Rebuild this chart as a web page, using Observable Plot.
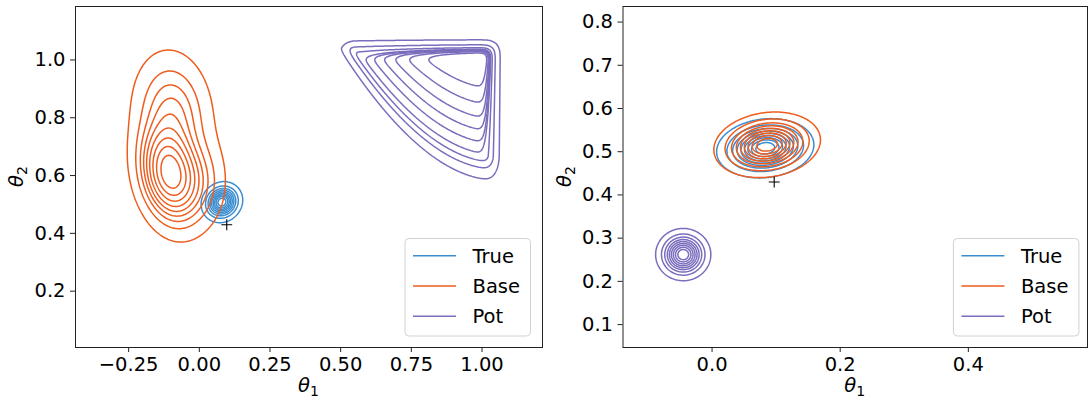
<!DOCTYPE html>
<html><head><meta charset="utf-8">
<script src="https://cdn.jsdelivr.net/npm/d3@7"></script>
<script src="https://cdn.jsdelivr.net/npm/@observablehq/plot@0.6"></script>
<style>
body{margin:0;background:#fff;}
#wrap{position:relative;width:1089px;height:403px;overflow:hidden;background:#fff;}
#wrap svg{position:absolute;top:0;}
</style>
</head><body><div id="wrap"></div>
<script>
// ---------- data ----------
const seriesNames = ["True", "Base", "Pot"];
const seriesColors = ["#3a8dd0", "#ee5d1e", "#7a6dbd"];
// Gaussian components: [weight, mean θ1, mean θ2, sd θ1, sd θ2, correlation]
const leftTrue  = [[1, 0.080, 0.508, 0.030, 0.029, 0.10]];
const leftBase  = [[0.60, -0.105, 0.605, 0.060, 0.095, -0.20], [0.30, -0.095, 0.820, 0.073, 0.110, -0.10], [0.10, 0.000, 0.580, 0.055, 0.090, 0.0]];
// corner-peaked posterior: [corner θ1, corner θ2, θ1 exponent, θ1 scale, plateau, falloff, slope, edge θ1, edge θ2, edge softness]
const leftPot   = [1.035, 1.04, 1.83, 0.711, 0.37, 0.055, 0.6, 1.05, 1.055, 0.0206];
const rightTrue = [[1, 0.083, 0.508, 0.031, 0.028, 0.12]];
const rightBase = [[1, 0.086, 0.516, 0.034, 0.031, 0.15]];
const rightPot  = [[1, -0.045, 0.262, 0.0176, 0.0247, 0.0]];
const truthPoint = [{t1: 0.097, t2: 0.430}];
const levelProportions = [0.05, 0.1556, 0.2611, 0.3667, 0.4722, 0.5778, 0.6833, 0.7889, 0.8944];

const leftXTicks = [-0.25, 0, 0.25, 0.5, 0.75, 1.0];
const leftXLabels = ["−0.25", "0.00", "0.25", "0.50", "0.75", "1.00"];
const leftYTicks = [0.2, 0.4, 0.6, 0.8, 1.0];
const leftYLabels = ["0.2", "0.4", "0.6", "0.8", "1.0"];
const rightXTicks = [0, 0.2, 0.4];
const rightXLabels = ["0.0", "0.2", "0.4"];
const rightYTicks = [0.1, 0.2, 0.3, 0.4, 0.5, 0.6, 0.7, 0.8];
const rightYLabels = ["0.1", "0.2", "0.3", "0.4", "0.5", "0.6", "0.7", "0.8"];

// ---------- density helpers ----------
function mixture(comps) {
  return (x, y) => {
    let s = 0;
    for (const [w, mx, my, sx, sy, r] of comps) {
      const dx = (x - mx) / sx, dy = (y - my) / sy;
      const q = (dx * dx - 2 * r * dx * dy + dy * dy) / (1 - r * r);
      s += w * Math.exp(-0.5 * q) / (sx * sy * Math.sqrt(1 - r * r));
    }
    return s;
  };
}
function erf(z) {
  const s = Math.sign(z); z = Math.abs(z);
  const t = 1 / (1 + 0.3275911 * z);
  const y = 1 - (((((1.061405429 * t - 1.453152027) * t) + 1.421413741) * t - 0.284496736) * t + 0.254829592) * t * Math.exp(-z * z);
  return s * y;
}
const Phi = z => 0.5 * (1 + erf(z / Math.SQRT2));
function cornerDensity([cx, cy, g, A, t0, s, k, ex, ey, w]) {
  return (x, y) => {
    const ux = Math.max(0, cx - x), uy = Math.max(0, cy - y);
    const t = Math.pow(ux, g) / A + uy;
    const d = Math.max(0, t - t0);
    return Math.exp(-k * t - d * d / (2 * s * s)) * Phi((ex - x) / w) * Phi((ey - y) / w);
  };
}
function isoLevels(f, xd, yd) {
  const n = 360, vals = [];
  let tot = 0;
  for (let i = 0; i < n; i++) for (let j = 0; j < n; j++) {
    const v = f(xd[0] + (i + 0.5) * (xd[1] - xd[0]) / n, yd[0] + (j + 0.5) * (yd[1] - yd[0]) / n);
    vals.push(v); tot += v;
  }
  vals.sort((a, b) => b - a);
  const order = levelProportions.map((p, i) => [(1 - p) * tot, i]).sort((a, b) => a[0] - b[0]);
  const res = new Array(order.length);
  let cum = 0, oi = 0;
  for (let i = 0; i < vals.length && oi < order.length; i++) {
    cum += vals[i];
    while (oi < order.length && cum >= order[oi][0]) { res[order[oi][1]] = vals[i]; oi++; }
  }
  return res.filter(v => v !== undefined).sort((a, b) => a - b);
}

function contourMark(f, xd, yd, color) {
  return Plot.contour({
    x1: xd[0], x2: xd[1], y1: yd[0], y2: yd[1],
    value: f, thresholds: isoLevels(f, xd, yd),
    fill: "none", stroke: color, strokeWidth: 1.5, pixelSize: 1
  });
}

const FONT = "'DejaVu Sans', sans-serif";
function panel({left, width, marginLeft, marginRight, xd, yd, dens, xt, xl, yt, yl, legendX}) {
  const xMap = new Map(xt.map((d, i) => [d, xl[i]]));
  const yMap = new Map(yt.map((d, i) => [d, yl[i]]));
  const svg = Plot.plot({
    width, height: 403, marginLeft, marginRight, marginTop: 6, marginBottom: 56,
    x: {domain: xd, label: null},
    y: {domain: yd, label: null},
    style: {fontFamily: "DejaVu Sans", fontSize: "19.5px", color: "black", background: "white", overflow: "visible"},
    marks: [
      ...dens.map((f, i) => contourMark(f, xd, yd, seriesColors[i])),
      Plot.dot(truthPoint, {x: "t1", y: "t2", symbol: "plus", r: 3.6, stroke: "black", strokeWidth: 1.1}),
      Plot.axisX(xt, {tickSize: 5, tickPadding: 5, fontSize: 19.5, tickFormat: d => xMap.get(d), label: null, stroke: "#222"}),
      Plot.axisY(yt, {tickSize: 5, tickPadding: 5, fontSize: 19.5, tickFormat: d => yMap.get(d), label: null, stroke: "#222"}),
      Plot.frame({stroke: "#222", strokeWidth: 1})
    ]
  });
  svg.style.left = left + "px";
  const s = d3.select(svg);
  const cx = marginLeft + (width - marginLeft - marginRight) / 2;
  const t1 = s.append("text").attr("x", cx).attr("y", 392).attr("text-anchor", "middle").attr("fill", "black");
  t1.append("tspan").attr("font-style", "italic").text("θ");
  t1.append("tspan").attr("class", "sub").attr("dy", "4").text("1");
  const t2 = s.append("text").attr("transform", `translate(${marginLeft - 52},176.5) rotate(-90)`)
    .attr("text-anchor", "middle").attr("fill", "black");
  t2.append("tspan").attr("font-style", "italic").text("θ");
  t2.append("tspan").attr("class", "sub").attr("dy", "4").text("2");
  const g = s.append("g").attr("transform", `translate(${legendX},238.5)`);
  g.append("rect").attr("width", 125.5).attr("height", 97.5).attr("rx", 4)
    .attr("fill", "white").attr("fill-opacity", 0.8).attr("stroke", "#d2d2d2").attr("stroke-width", 1);
  seriesNames.forEach((name, i) => {
    const yy = 17.2 + i * 30.3;
    g.append("line").attr("x1", 8).attr("x2", 51).attr("y1", yy).attr("y2", yy)
      .attr("stroke", seriesColors[i]).attr("stroke-width", 1.5);
    g.append("text").attr("x", 67.5).attr("y", yy + 7).attr("text-anchor", "start")
      .attr("fill", "black").text(name);
  });
  s.selectAll("text").style("font-family", FONT, "important").style("font-size", "19.5px", "important");
  s.selectAll("tspan.sub").style("font-size", "14px", "important");
  document.getElementById("wrap").appendChild(svg);
}

panel({left: 0, width: 545, marginLeft: 75, marginRight: 3,
  xd: [-0.438, 1.214], yd: [0.005, 1.185],
  dens: [mixture(leftTrue), mixture(leftBase), cornerDensity(leftPot)],
  xt: leftXTicks, xl: leftXLabels, yt: leftYTicks, yl: leftYLabels, legendX: 405});
panel({left: 545, width: 544, marginLeft: 77.5, marginRight: 2,
  xd: [-0.139, 0.586], yd: [0.047, 0.836],
  dens: [mixture(rightTrue), mixture(rightBase), mixture(rightPot)],
  xt: rightXTicks, xl: rightXLabels, yt: rightYTicks, yl: rightYLabels, legendX: 408.4});
</script>
</body></html>
